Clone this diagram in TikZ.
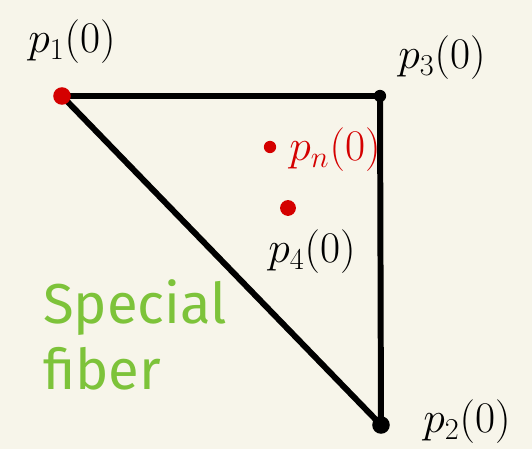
\documentclass[tikz,border=0pt]{standalone}
\usepackage{fontspec}
\setmainfont{Fira Sans}
\usepackage{tikz}
\usetikzlibrary{calc,positioning}
\definecolor{fiberBg}{RGB}{247,245,234}
\definecolor{fiberRed}{RGB}{212,0,0}
\definecolor{fiberGreen}{RGB}{125,195,58}
\tikzset{
  edge/.style={line width=3.4pt},
  reddot/.style={circle, fill=fiberRed, inner sep=0pt, minimum size=#1},
  blackdot/.style={circle, fill=black, inner sep=0pt, minimum size=#1},
  plabel/.style={font=\fontsize{27}{31}\selectfont, inner sep=0pt}
}

\begin{document}
\begin{tikzpicture}[x=0.02cm, y=-0.02cm]
\fill[fiberBg] (0,0) rectangle (532,449);
\useasboundingbox (0,0) rectangle (532,449);

\coordinate (p1) at (62,96);
\coordinate (p3) at (380,96);
\coordinate (p2) at (381,425);

\draw[edge] (p1)--(p3)--(p2)--cycle;

\node[reddot=10pt] (d1) at (p1) {};
\node[blackdot=7pt] (d3) at (p3) {};
\node[blackdot=10pt] (d2) at (p2) {};
\node[reddot=7pt] (dn) at (270,147) {};
\node[reddot=9pt] (d4) at (288,208) {};

\node[plabel] (l1) at (72,42) {$p_1(0)$};
\node[plabel] (l3) at (442,58) {$p_3(0)$};
\node[plabel, text=fiberRed] (ln) at (335,150) {$p_n(0)$};
\node[plabel] (l4) at (312,252) {$p_4(0)$};
\node[plabel] (l2) at (467,422) {$p_2(0)$};

\node[text=fiberGreen, font=\fontsize{32}{38}\selectfont, align=left, inner sep=0pt] (fiber) at (135,335) {Special\\fiber};
\end{tikzpicture}
\end{document}
